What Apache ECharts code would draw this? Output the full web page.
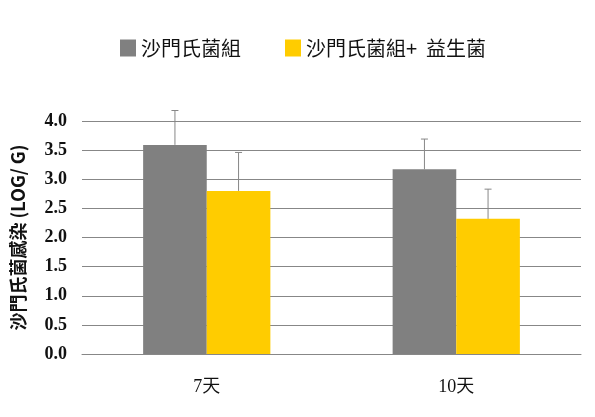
<!DOCTYPE html>
<html>
<head>
<meta charset="utf-8">
<script src="https://cdn.jsdelivr.net/npm/echarts@6/dist/echarts.min.js"></script>
<style>
  html, body { margin: 0; padding: 0; background: #fff; }
  #chart { width: 595px; height: 417px; }
</style>
</head>
<body>
<div id="chart"></div>
<script>
const categories = ['7天', '10天'];
const seriesNames = ['沙門氏菌組', '沙門氏菌組+  益生菌'];
const salmonella = [3.59, 3.17];
const salmonellaErr = [0.59, 0.52];
const probiotic = [2.80, 2.32];
const probioticErr = [0.66, 0.51];

const GREY = '#808080';
const YELLOW = '#ffcc00';
const LINE = '#878787';
const CAT_GAP = 0.49;

// error bar: vertical line up from the bar top with a small cap
function errorSeries(values, errs, side) {
    return {
        type: 'custom',
        silent: true,
        z: 5,
        data: values.map((v, i) => [i, v, v + errs[i]]),
        renderItem: (params, api) => {
            const band = api.size([1, 0])[0];
            const barW = band * (1 - CAT_GAP) / 2;
            const base = api.coord([api.value(0), api.value(1)]);
            const top = api.coord([api.value(0), api.value(2)]);
            const x = base[0] + side * barW / 2;
            const style = { stroke: LINE, lineWidth: 1 };
            return {
                type: 'group',
                children: [
                    { type: 'line', shape: { x1: x, y1: base[1], x2: x, y2: top[1] }, style },
                    { type: 'line', shape: { x1: x - 3.5, y1: top[1], x2: x + 3.5, y2: top[1] }, style }
                ]
            };
        }
    };
}

const chart = echarts.init(document.getElementById('chart'));
chart.setOption({
    animation: false,
    backgroundColor: '#fff',
    legend: {
        left: 115,
        top: 33,
        itemWidth: 16,
        itemHeight: 17,
        itemGap: 44,
        icon: 'rect',
        data: seriesNames,
        textStyle: {
            fontFamily: '"Noto Sans CJK TC"',
            fontSize: 20,
            color: '#111'
        }
    },
    grid: { left: 82, right: 14, top: 121, bottom: 63 },
    xAxis: {
        type: 'category',
        data: categories,
        axisLine: { lineStyle: { color: LINE } },
        axisTick: { show: false },
        axisLabel: {
            margin: 24,
            fontFamily: '"Liberation Serif", "Noto Sans CJK TC"',
            fontSize: 18,
            color: '#111'
        }
    },
    yAxis: {
        type: 'value',
        min: 0,
        max: 4,
        interval: 0.5,
        name: '沙門氏菌感染 (LOG/ G)',
        nameLocation: 'middle',
        nameGap: 55,
        nameTextStyle: {
            fontFamily: '"Noto Sans CJK TC"',
            fontWeight: 'bold',
            fontSize: 18,
            color: '#111'
        },
        axisLine: { show: false },
        axisTick: { show: false },
        splitLine: { lineStyle: { color: LINE } },
        axisLabel: {
            margin: 15,
            formatter: v => v.toFixed(1),
            fontFamily: '"Liberation Serif"',
            fontWeight: 'bold',
            fontSize: 18,
            color: '#111'
        }
    },
    series: [
        {
            name: seriesNames[0],
            type: 'bar',
            data: salmonella,
            barGap: '0%',
            barCategoryGap: (CAT_GAP * 100) + '%',
            itemStyle: { color: GREY }
        },
        {
            name: seriesNames[1],
            type: 'bar',
            data: probiotic,
            barGap: '0%',
            barCategoryGap: (CAT_GAP * 100) + '%',
            itemStyle: { color: YELLOW }
        },
        errorSeries(salmonella, salmonellaErr, -1),
        errorSeries(probiotic, probioticErr, 1)
    ]
});
</script>
</body>
</html>
